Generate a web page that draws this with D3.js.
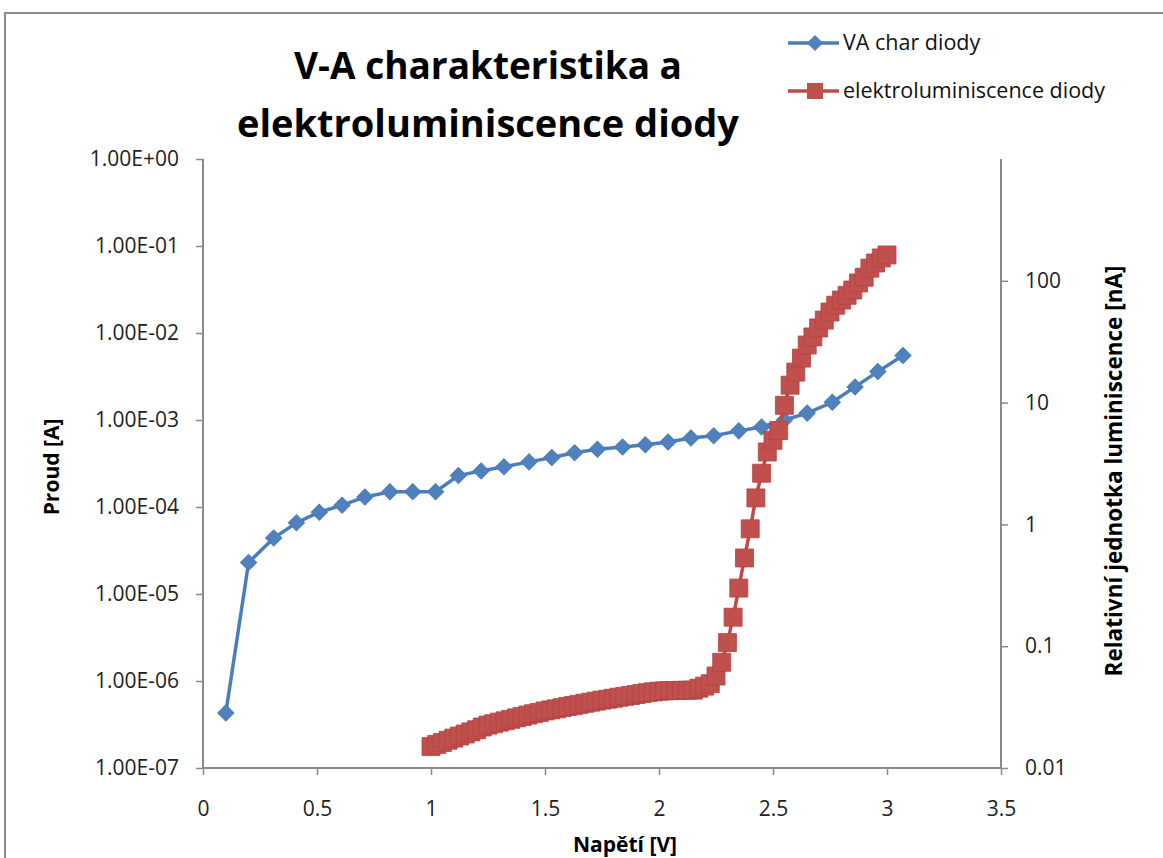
<!DOCTYPE html>
<meta charset="utf-8">
<head>
    <title>V-A charakteristika</title>
</head>
<style>
    body { margin: 0; background: #fff; }
    text { font-family: "Open Sans", sans-serif; }
</style>
<div id="graph_div"></div>
<script src="https://d3js.org/d3.v7.min.js"></script>
<script>
    // VA char diody - napeti [V] a proud [A]
    var ampV = [0.10, 0.20, 0.31, 0.41, 0.51, 0.61, 0.71, 0.82, 0.92, 1.02,
                1.12, 1.22, 1.32, 1.43, 1.53, 1.63, 1.73, 1.84, 1.94, 2.04,
                2.14, 2.24, 2.35, 2.45, 2.55, 2.65, 2.76, 2.86, 2.96, 3.07];
    var ampI = [4.3e-7, 2.3e-5, 4.4e-5, 6.6e-5, 8.7e-5, 1.05e-4, 1.3e-4, 1.5e-4, 1.5e-4, 1.5e-4,
                2.3e-4, 2.6e-4, 2.9e-4, 3.3e-4, 3.7e-4, 4.2e-4, 4.6e-4, 4.9e-4, 5.2e-4, 5.6e-4,
                6.2e-4, 6.6e-4, 7.5e-4, 8.3e-4, 1.0e-3, 1.2e-3, 1.6e-3, 2.4e-3, 3.6e-3, 5.5e-3];

    // elektroluminiscence diody - napeti [V] a relativni jednotka [nA]
    var lumV = [1.000, 1.025, 1.050, 1.075, 1.100, 1.125, 1.150, 1.175, 1.200, 1.225,
                1.250, 1.275, 1.300, 1.325, 1.350, 1.375, 1.400, 1.425, 1.450, 1.475,
                1.500, 1.525, 1.550, 1.575, 1.600, 1.625, 1.650, 1.675, 1.700, 1.725,
                1.750, 1.775, 1.800, 1.825, 1.850, 1.875, 1.900, 1.925, 1.950, 1.975,
                2.000, 2.025, 2.050, 2.075, 2.100, 2.125, 2.150, 2.175, 2.200, 2.225,
                2.250, 2.275, 2.300, 2.325, 2.350, 2.375, 2.400, 2.425, 2.450, 2.475,
                2.500, 2.525, 2.550, 2.575, 2.600, 2.625, 2.650, 2.675, 2.700, 2.725,
                2.750, 2.775, 2.800, 2.825, 2.850, 2.875, 2.900, 2.925, 2.950, 2.975,
                3.000];
    var lumL = [0.0150, 0.0156, 0.0162, 0.0169, 0.0176, 0.0183, 0.0190, 0.0198, 0.0206, 0.0217,
                0.0225, 0.0231, 0.0238, 0.0244, 0.0251, 0.0258, 0.0265, 0.0272, 0.0279, 0.0286,
                0.0294, 0.0300, 0.0306, 0.0313, 0.0320, 0.0326, 0.0333, 0.0340, 0.0347, 0.0354,
                0.0361, 0.0367, 0.0374, 0.0381, 0.0388, 0.0394, 0.0401, 0.0409, 0.0416, 0.0422,
                0.0427, 0.0430, 0.0432, 0.0433, 0.0434, 0.0435, 0.0436, 0.0452, 0.0470, 0.0492,
                0.0569, 0.0738, 0.107, 0.173, 0.30, 0.53, 0.92, 1.65, 2.63, 3.93,
                4.9, 5.9, 9.5, 13.9, 17.8, 23.2, 29.7, 34.6, 41, 47.6,
                55.4, 63, 69.5, 76, 84, 96, 107, 127, 140, 154,
                163];

    var voltTicks = [0, 0.5, 1, 1.5, 2, 2.5, 3, 3.5];
    var ampTicks = [1e-7, 1e-6, 1e-5, 1e-4, 1e-3, 1e-2, 1e-1, 1];
    var lumTicks = [0.01, 0.1, 1, 10, 100];
    var seriesNames = ["VA char diody", "elektroluminiscence diody"];

    var blue = "#4a7ebb", red = "#be4b48";
    var W = 1163, H = 858;
    var pLeft = 203, pRight = 1001, pTop = 159, pBottom = 768;

    var svg = d3.select("#graph_div")
      .append("svg")
        .attr("width", W)
        .attr("height", H);

    svg.append("rect")
        .attr("x", 5).attr("y", 13)
        .attr("width", W + 20).attr("height", H + 20)
        .attr("fill", "white")
        .attr("stroke", "#8a8a8a")
        .attr("stroke-width", 2);

    var x = d3.scaleLinear().domain([0, 3.5]).range([pLeft, pRight]);
    var yA = d3.scaleLog().domain([1e-7, 1]).range([pBottom, pTop]);
    var yL = d3.scaleLog().domain([0.01, 1000]).range([pBottom, pTop]);

    function sci(d) {
        var e = Math.round(Math.log10(d));
        return "1.00E" + (e < 0 ? "-" : "+") + String(Math.abs(e)).padStart(2, "0");
    }

    // osy
    var xAxis = svg.append("g")
        .attr("transform", "translate(0," + pBottom + ")")
        .call(d3.axisBottom(x).tickValues(voltTicks).tickSize(7).tickPadding(26).tickFormat(function(d) { return String(d); }));
    var yAxisL = svg.append("g")
        .attr("transform", "translate(" + pLeft + ",0)")
        .call(d3.axisLeft(yA).tickValues(ampTicks).tickSize(7).tickPadding(17).tickFormat(sci));
    var yAxisR = svg.append("g")
        .attr("transform", "translate(" + pRight + ",0)")
        .call(d3.axisRight(yL).tickValues(lumTicks).tickSize(7).tickPadding(17).tickFormat(function(d) { return String(d); }));

    [xAxis, yAxisL, yAxisR].forEach(function(a) {
        a.select(".domain").attr("stroke", "#8a8a8a").attr("stroke-width", 2);
        a.selectAll(".tick line").attr("stroke", "#8a8a8a").attr("stroke-width", 1.5);
        a.selectAll(".tick text")
            .attr("font-family", "Open Sans")
            .attr("font-size", 21)
            .attr("fill", "#222");
    });
    yAxisL.select(".domain").attr("d", "M0," + pBottom + "V" + pTop);
    yAxisR.select(".domain").attr("d", "M0," + pBottom + "V" + pTop);
    xAxis.select(".domain").attr("d", "M" + pLeft + ",0H" + pRight);

    // VA char diody
    var ampData = ampV.map(function(v, i) { return [v, ampI[i]]; });
    svg.append("path")
        .datum(ampData)
        .attr("fill", "none")
        .attr("stroke", blue)
        .attr("stroke-width", 3.5)
        .attr("d", d3.line()
            .x(function(d) { return x(d[0]); })
            .y(function(d) { return yA(d[1]); }));
    svg.selectAll(".dia")
        .data(ampData)
        .enter()
        .append("path")
        .attr("class", "dia")
        .attr("d", d3.symbol(d3.symbolSquare, 130))
        .attr("transform", function(d) { return "translate(" + x(d[0]) + "," + yA(d[1]) + ") rotate(45)"; })
        .attr("fill", "#4f81bd")
        .attr("stroke", blue)
        .attr("stroke-width", 1);

    // elektroluminiscence diody
    var lumData = lumV.map(function(v, i) { return [v, lumL[i]]; });
    svg.append("path")
        .datum(lumData)
        .attr("fill", "none")
        .attr("stroke", red)
        .attr("stroke-width", 3.5)
        .attr("d", d3.line()
            .x(function(d) { return x(d[0]); })
            .y(function(d) { return yL(d[1]); }));
    svg.selectAll(".sq")
        .data(lumData)
        .enter()
        .append("path")
        .attr("class", "sq")
        .attr("d", d3.symbol(d3.symbolSquare, 324))
        .attr("transform", function(d) { return "translate(" + x(d[0]) + "," + yL(d[1]) + ")"; })
        .attr("fill", "#c0504d")
        .attr("stroke", "#b5433f")
        .attr("stroke-width", 0.8);

    // nadpis
    svg.append("text")
        .attr("x", 488).attr("y", 79)
        .attr("text-anchor", "middle")
        .attr("font-size", 37).attr("font-weight", "bold")
        .text("V-A charakteristika a");
    svg.append("text")
        .attr("x", 488).attr("y", 137)
        .attr("text-anchor", "middle")
        .attr("font-size", 38).attr("font-weight", "bold")
        .text("elektroluminiscence diody");

    // popisky os
    svg.append("text")
        .attr("transform", "translate(59,467) rotate(-90)")
        .attr("text-anchor", "middle")
        .attr("font-size", 21).attr("font-weight", "bold")
        .text("Proud [A]");
    svg.append("text")
        .attr("x", 625).attr("y", 852)
        .attr("text-anchor", "middle")
        .attr("font-size", 21).attr("font-weight", "bold")
        .text("Napětí [V]");
    svg.append("text")
        .attr("transform", "translate(1122,471) rotate(-90)")
        .attr("text-anchor", "middle")
        .attr("font-size", 22.5).attr("font-weight", "bold")
        .text("Relativní jednotka luminiscence [nA]");

    // legenda
    var legend = svg.append("g");
    [0, 1].forEach(function(i) {
        var ly = 43 + i * 48;
        var c = i == 0 ? blue : red;
        legend.append("line")
            .attr("x1", 788).attr("x2", 839)
            .attr("y1", ly).attr("y2", ly)
            .attr("stroke", c).attr("stroke-width", 3.5);
        legend.append("path")
            .attr("d", d3.symbol(d3.symbolSquare, i == 0 ? 130 : 256))
            .attr("transform", "translate(815," + ly + ")" + (i == 0 ? " rotate(45)" : ""))
            .attr("fill", i == 0 ? "#4f81bd" : "#c0504d");
        legend.append("text")
            .attr("x", 843).attr("y", ly + 7)
            .attr("font-size", 21.5)
            .attr("fill", "#111")
            .text(seriesNames[i]);
    });
</script>
